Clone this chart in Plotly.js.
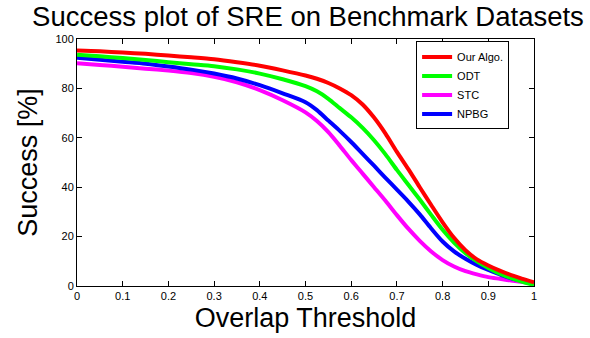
<!DOCTYPE html>
<html>
<head>
<meta charset="utf-8">
<script src="https://cdn.plot.ly/plotly-3.0.1.min.js"></script>
<style>html,body{margin:0;padding:0;background:#fff;}#chart{width:590px;height:338px;}</style>
</head>
<body>
<div id="chart"></div>
<script>
// Overlap thresholds (x values)
const thresholds = [0, 0.05, 0.1, 0.15, 0.2, 0.25, 0.3, 0.35, 0.4, 0.45, 0.5,
  0.525, 0.55, 0.575, 0.6, 0.625, 0.65, 0.675, 0.7, 0.725, 0.75, 0.775, 0.8,
  0.825, 0.85, 0.875, 0.9, 0.925, 0.95, 0.975, 1.0];

// Success rates [%]
const ourAlgo = [95.3, 95.0, 94.5, 94.0, 93.3, 92.6, 91.8, 90.6, 89.2, 87.3, 85.2,
  83.9, 82.2, 80.0, 77.3, 73.5, 68.2, 61.7, 54.3, 47.3, 40.0, 32.8, 25.8,
  19.5, 14.5, 10.8, 8.3, 6.2, 4.4, 2.9, 1.5];
const odt = [93.6, 93.0, 92.3, 91.5, 90.6, 89.8, 89.0, 87.7, 86.0, 83.7, 80.9,
  78.8, 75.8, 72.0, 68.3, 64.0, 59.0, 53.3, 47.0, 41.0, 35.0, 28.8, 22.8,
  17.6, 13.3, 10.0, 7.3, 5.0, 3.2, 1.7, 0.4];
const stc = [90.2, 89.5, 88.8, 88.0, 87.2, 86.2, 84.7, 82.5, 79.3, 75.2, 70.3,
  66.8, 62.3, 56.8, 51.0, 45.5, 40.0, 34.5, 28.7, 23.2, 18.3, 14.0, 10.5,
  7.9, 6.0, 4.7, 3.6, 2.9, 2.2, 1.6, 1.0];
const npbg = [92.4, 91.6, 90.8, 90.0, 88.9, 87.6, 86.0, 84.0, 81.3, 78.0, 74.4,
  71.2, 67.0, 62.8, 58.3, 53.5, 48.7, 43.8, 39.0, 34.2, 29.0, 23.3, 18.0,
  14.0, 11.0, 8.5, 6.5, 4.7, 3.1, 2.0, 1.0];

const seriesNames = ["Our Algo.", "ODT", "STC", "NPBG"];
const seriesColors = ["#ff0000", "#00ff00", "#ff00ff", "#0000ff"];
const seriesValues = [ourAlgo, odt, stc, npbg];

const xTicks = [0, 0.1, 0.2, 0.3, 0.4, 0.5, 0.6, 0.7, 0.8, 0.9, 1];
const yTicks = [0, 20, 40, 60, 80, 100];

// Draw order: STC, NPBG, ODT, then Our Algo. on top; legend keeps original order
const drawOrder = [2, 3, 1, 0];
const traces = drawOrder.map(i => ({
  x: thresholds, y: seriesValues[i], type: "scatter", mode: "lines",
  name: seriesNames[i], line: {color: seriesColors[i], width: 4, shape: "spline", smoothing: 0.8},
  legendrank: i + 1
}));

const font = "Arial, 'Liberation Sans', sans-serif";
const axisCommon = {
  showline: true, linecolor: "#000", linewidth: 1, mirror: "ticks",
  ticks: "inside", ticklen: 5, tickcolor: "#000", showgrid: false, zeroline: false,
  tickfont: {family: font, size: 11, color: "#000"}
};

const layout = {
  width: 590, height: 338,
  margin: {l: 77, r: 56, t: 39, b: 52},
  paper_bgcolor: "#fff", plot_bgcolor: "#fff",
  title: {text: "Success plot of SRE on Benchmark Datasets", font: {family: font, size: 27.5, color: "#000"},
          x: 0.522, xanchor: "center", y: 0.953, yanchor: "middle", yref: "container"},
  xaxis: Object.assign({}, axisCommon, {
    range: [0, 1], tickvals: xTicks, ticktext: xTicks.map(String),
    title: {text: "Overlap Threshold", font: {family: font, size: 27, color: "#000"}, standoff: 6}
  }),
  yaxis: Object.assign({}, axisCommon, {
    range: [0, 100], tickvals: yTicks, ticktext: yTicks.map(String),
    title: {text: "Success [%]", font: {family: font, size: 27, color: "#000"}, standoff: 9}
  }),
  showlegend: true,
  legend: {x: 0.742, y: 0.99, xanchor: "left", yanchor: "top",
           bgcolor: "#fff", bordercolor: "#000", borderwidth: 1,
           font: {family: font, size: 11, color: "#000"}, traceorder: "normal"}
};

Plotly.newPlot("chart", traces, layout, {displayModeBar: false, staticPlot: true});
</script>
</body>
</html>
